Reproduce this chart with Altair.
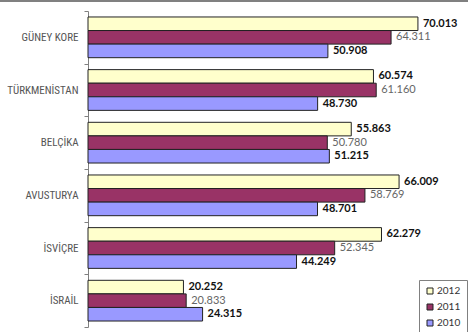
import altair as alt
import pandas as pd

countries = ["GÜNEY KORE", "TÜRKMENİSTAN", "BELÇİKA", "AVUSTURYA", "İSVİÇRE", "İSRAİL"]
years = ["2012", "2011", "2010"]
v2012 = [70.013, 60.574, 55.863, 66.009, 62.279, 20.252]
v2011 = [64.311, 61.160, 50.780, 58.769, 52.345, 20.833]
v2010 = [50.908, 48.730, 51.215, 48.701, 44.249, 24.315]
colors = ["#FFFFCC", "#993366", "#9999FF"]

rows = []
for i, c in enumerate(countries):
    for y, vals in zip(years, [v2012, v2011, v2010]):
        v = vals[i]
        rows.append({"country": c, "year": y, "value": v,
                     "label": f"{v:.3f}"})
df = pd.DataFrame(rows)

W, H = 377, 316
FONT = "Lato"
AXFONT = "'Roboto Condensed', 'DejaVu Sans Condensed', 'Liberation Sans Narrow', Lato"

y_enc = alt.Y("country:N", sort=countries,
              scale=alt.Scale(paddingInner=0.0, paddingOuter=0.0),
              axis=alt.Axis(title=None, labelFontSize=11, labelColor="#555555",
                            labelFont=AXFONT, labelFontWeight="normal",
                            labelPadding=6, tickSize=4,
                            tickBand="extent", domainColor="#808080",
                            tickColor="#808080", labelAngle=0))
yoff = alt.YOffset("year:N", sort=years,
                   scale=alt.Scale(paddingInner=0.0, paddingOuter=0.44))
x_enc = alt.X("value:Q", scale=alt.Scale(domain=[0, 80], nice=False), axis=None)

bars = alt.Chart(df).mark_bar(stroke="#222222", strokeWidth=1).encode(
    y=y_enc, yOffset=yoff, x=x_enc,
    color=alt.Color("year:N", sort=years,
                    scale=alt.Scale(domain=years, range=colors),
                    legend=alt.Legend(title=None, orient="none", legendX=331, legendY=269,
                                      symbolType="square", symbolStrokeColor="#222222",
                                      symbolStrokeWidth=1, symbolSize=36,
                                      labelFontSize=10, labelFont=FONT,
                                      labelColor="#333333", rowPadding=6,
                                      labelOffset=2,
                                      padding=6, strokeColor="#808080",
                                      fillColor="white")),
)

txt_bold = alt.Chart(df).transform_filter("datum.year != '2011'").mark_text(
    align="left", baseline="middle", dx=5, fontSize=11, fontWeight="bold",
    font=FONT, color="#111111").encode(
    y=alt.Y("country:N", sort=countries), yOffset=yoff, x=x_enc, text="label:N")

txt_norm = alt.Chart(df).transform_filter("datum.year == '2011'").mark_text(
    align="left", baseline="middle", dx=5, fontSize=11,
    font=FONT, color="#666666").encode(
    y=alt.Y("country:N", sort=countries), yOffset=yoff, x=x_enc, text="label:N")

top_line = alt.Chart(pd.DataFrame({"a": [0]})).mark_rule(
    color="#808080", strokeWidth=2).encode(
    x=alt.value(-88), x2=alt.value(W + 10), y=alt.value(-10))

chart = alt.layer(bars, txt_bold, txt_norm, top_line).properties(
    width=W, height=H,
    padding={"left": 88, "top": 11, "right": 3, "bottom": 5},
    autosize=alt.AutoSizeParams(type="none"),
).configure_view(stroke=None)

chart.save("out.html", embed_options={"renderer": "svg", "actions": False})
